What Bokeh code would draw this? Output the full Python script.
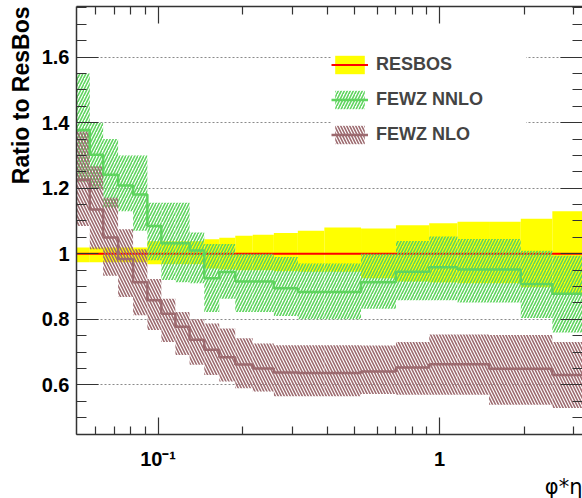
import numpy as np
from math import pi
from bokeh.plotting import figure
from bokeh.models import (ColumnDataSource, FixedTicker, LinearAxis, LogAxis,
                          Legend, LegendItem, Range1d, Title)
from bokeh.embed import file_html
from bokeh.resources import INLINE

# ---------------- data ----------------
bin_edges = [0.050, 0.0572, 0.0638, 0.0721, 0.0815, 0.0916, 0.1027, 0.1152,
             0.1294, 0.1459, 0.1650, 0.1880, 0.2169, 0.2578, 0.3137, 0.3897,
             0.526, 0.700, 0.919, 1.158, 1.499, 1.943, 2.516, 3.30]

resbos_ratio = [1.0, 1.0, 1.0, 1.0, 1.0, 1.0, 1.0, 1.0, 1.0, 1.0, 1.0, 1.0,
                1.0, 1.0, 1.0, 1.0, 1.0, 1.0, 1.0, 1.0, 1.0, 1.0, 1.0]
resbos_hi = [1.019, 1.019, 1.019, 1.019, 1.019, 1.038, 1.038, 1.038, 1.038,
             1.044, 1.049, 1.055, 1.058, 1.063, 1.070, 1.080, 1.077, 1.087,
             1.093, 1.098, 1.098, 1.107, 1.130]
resbos_lo = [0.974, 0.974, 0.974, 0.974, 0.974, 0.968, 0.968, 0.968, 0.968,
             0.955, 0.952, 0.950, 0.950, 0.947, 0.945, 0.945, 0.925, 0.915,
             0.912, 0.910, 0.910, 0.898, 0.880]

nnlo_ratio = [1.378, 1.302, 1.241, 1.208, 1.181, 1.085, 1.032, 1.032, 1.010,
              0.925, 0.944, 0.915, 0.915, 0.895, 0.883, 0.883, 0.913, 0.945,
              0.959, 0.952, 0.952, 0.908, 0.878]
nnlo_hi = [1.550, 1.400, 1.350, 1.300, 1.300, 1.156, 1.156, 1.156, 1.065,
           1.030, 1.030, 1.000, 1.000, 0.990, 0.970, 0.970, 1.000, 1.039,
           1.053, 1.045, 1.045, 1.009, 0.994]
nnlo_lo = [1.220, 1.200, 1.140, 1.130, 1.070, 0.980, 0.920, 0.913, 0.910,
           0.822, 0.863, 0.822, 0.822, 0.810, 0.800, 0.800, 0.832, 0.858,
           0.858, 0.851, 0.851, 0.804, 0.760]

nlo_ratio = [1.226, 1.135, 1.050, 0.984, 0.913, 0.858, 0.817, 0.777, 0.738,
             0.707, 0.684, 0.662, 0.650, 0.638, 0.636, 0.636, 0.641, 0.653,
             0.663, 0.663, 0.649, 0.649, 0.630]
nlo_hi = [1.373, 1.267, 1.171, 1.075, 1.014, 0.923, 0.863, 0.822, 0.800,
          0.787, 0.772, 0.742, 0.726, 0.721, 0.721, 0.721, 0.720, 0.731,
          0.754, 0.754, 0.752, 0.752, 0.731]
nlo_lo = [1.085, 1.014, 0.933, 0.868, 0.812, 0.767, 0.731, 0.691, 0.661,
          0.630, 0.610, 0.590, 0.580, 0.565, 0.565, 0.565, 0.572, 0.570,
          0.570, 0.570, 0.539, 0.539, 0.529]

y_tick_vals = [0.6, 0.8, 1.0, 1.2, 1.4, 1.6]
y_tick_labels = ["0.6", "0.8", "1", "1.2", "1.4", "1.6"]
y_minor_ticks = [0.45, 0.5, 0.55, 0.65, 0.7, 0.75, 0.85, 0.9, 0.95, 1.05,
                 1.1, 1.15, 1.25, 1.3, 1.35, 1.45, 1.5, 1.55, 1.65, 1.7, 1.75]
x_tick_vals = [0.1, 1.0]
x_tick_labels = ["10\u207b\u00b9", "1"]
x_minor_ticks = [0.06, 0.07, 0.08, 0.09, 0.2, 0.3, 0.4, 0.5, 0.6, 0.7, 0.8,
                 0.9, 2.0, 3.0]

series_labels = ["RESBOS", "FEWZ NNLO", "FEWZ NLO"]
y_title = "Ratio to ResBos"
x_title = "\u03c6*\u03b7"

# ---------------- styles ----------------
YELLOW = "#ffff00"
RED = "#ff0000"
GREEN = "#5ed45e"
BROWN = "#9c6a6f"
AXIS = "#333333"
FONT = "Liberation Sans"

left = bin_edges[:-1]
right = bin_edges[1:]

src_res = ColumnDataSource(dict(left=left, right=right, top=resbos_hi, bottom=resbos_lo))
src_nnlo = ColumnDataSource(dict(left=left, right=right, top=nnlo_hi, bottom=nnlo_lo))
src_nlo = ColumnDataSource(dict(left=left, right=right, top=nlo_hi, bottom=nlo_lo))

def step_y(vals):
    return list(vals) + [vals[-1]]

p = figure(width=582, height=498, x_axis_type="log",
           x_range=Range1d(0.0513, 3.22), y_range=Range1d(0.4485, 1.7545),
           output_backend="svg", toolbar_location=None,
           min_border_left=75, min_border_right=0, min_border_top=6,
           min_border_bottom=61)
p.outline_line_color = None
p.background_fill_color = "white"
p.border_fill_color = "white"

# bands and lines
r_yel = p.quad(left="left", right="right", top="top", bottom="bottom",
               source=src_res, fill_color=YELLOW, line_color=None)
r_red = p.step(x=bin_edges, y=step_y(resbos_ratio), mode="after",
               line_color=RED, line_width=2)
r_gband = p.quad(left="left", right="right", top="top", bottom="bottom",
                 source=src_nnlo, fill_color=None, fill_alpha=0,
                 line_color=None, hatch_pattern="/", hatch_color=GREEN,
                 hatch_scale=6, hatch_weight=1.6)
r_bband = p.quad(left="left", right="right", top="top", bottom="bottom",
                 source=src_nlo, fill_color=None, fill_alpha=0,
                 line_color=None, hatch_pattern="\\", hatch_color=BROWN,
                 hatch_scale=6, hatch_weight=1.6)
r_gline = p.step(x=bin_edges, y=step_y(nnlo_ratio), mode="after",
                 line_color=GREEN, line_width=2.5)
r_bline = p.step(x=bin_edges, y=step_y(nlo_ratio), mode="after",
                 line_color=BROWN, line_width=2.5)

# ---------------- axes ----------------
xt = FixedTicker(ticks=x_tick_vals, minor_ticks=x_minor_ticks)
yt = FixedTicker(ticks=y_tick_vals, minor_ticks=y_minor_ticks)

def style_axis(ax, major_in, minor_in, line=True):
    ax.major_tick_in = major_in
    ax.major_tick_out = 0
    ax.minor_tick_in = minor_in
    ax.minor_tick_out = 0
    ax.major_tick_line_color = AXIS
    ax.minor_tick_line_color = AXIS
    ax.major_tick_line_width = 1.2
    ax.minor_tick_line_width = 1.2
    ax.axis_line_color = AXIS if line else None
    ax.axis_line_width = 1.5
    ax.major_label_text_font = FONT
    ax.major_label_text_font_style = "bold"
    ax.major_label_text_font_size = "20px"
    ax.major_label_text_color = "black"

xa = p.xaxis[0]
xa.ticker = xt
xa.major_label_overrides = dict(zip(x_tick_vals, x_tick_labels))
style_axis(xa, 17, 8)
xa.major_label_standoff = 13

ya = p.yaxis[0]
ya.ticker = yt
ya.major_label_overrides = dict(zip(y_tick_vals, y_tick_labels))
style_axis(ya, 22, 10)
ya.major_label_standoff = 7

# mirrored tick axes (top and right) without labels
top_ax = LogAxis(ticker=xt)
style_axis(top_ax, 17, 8)
top_ax.major_label_overrides = {v: "" for v in x_tick_vals}
top_ax.major_label_text_font_size = "4px"
top_ax.major_label_standoff = 0
p.add_layout(top_ax, "above")

right_ax = LinearAxis(ticker=yt)
style_axis(right_ax, 22, 10, line=False)
right_ax.major_label_overrides = {v: "" for v in y_tick_vals}
right_ax.major_label_text_font_size = "4px"
right_ax.major_label_standoff = 0
p.add_layout(right_ax, "right")

p.xgrid.visible = False
p.ygrid.ticker = FixedTicker(ticks=y_tick_vals)
p.ygrid.grid_line_color = "#8a8a8a"
p.ygrid.grid_line_dash = "2 2"
p.ygrid.grid_line_width = 1

# ---------------- legend ----------------
legend = Legend(items=[
    LegendItem(label=series_labels[0], renderers=[r_yel, r_red]),
    LegendItem(label=series_labels[1], renderers=[r_gband, r_gline]),
    LegendItem(label=series_labels[2], renderers=[r_bband, r_bline]),
], location=(255, 288), glyph_width=37, glyph_height=23, label_height=23,
   spacing=12, padding=10, label_standoff=8, label_width=150,
   label_text_font=FONT, label_text_font_style="bold",
   label_text_font_size="18px", background_fill_color="white",
   background_fill_alpha=1.0, border_line_color=None, margin=0)
p.add_layout(legend)

# ---------------- axis titles ----------------
ytitle = Title(text=y_title, align="right", text_font=FONT,
               text_font_style="bold", text_font_size="23px",
               text_color="black", standoff=10, offset=0)
p.add_layout(ytitle, "left")

xtitle = Title(text=x_title, align="right", text_font="DejaVu Sans",
               text_font_style="normal", text_font_size="21px",
               text_color="black", standoff=0, offset=0)
p.add_layout(xtitle, "below")

open("out.html", "w").write(file_html(p, INLINE))
